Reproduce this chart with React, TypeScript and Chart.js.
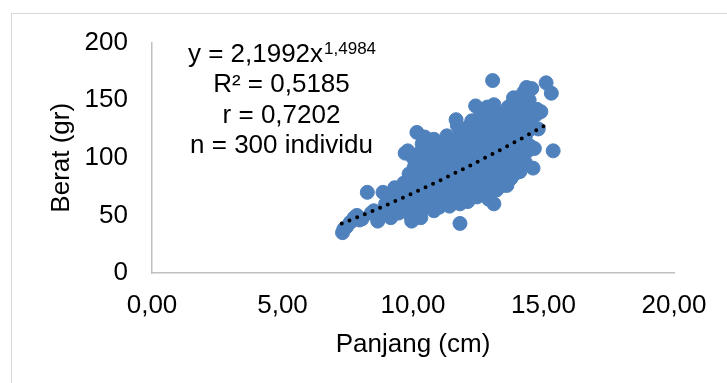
import React, { useEffect, useRef } from "react";
import { Chart, registerables } from "chart.js";

Chart.register(...registerables);

// Panjang (cm) of each sampled individual
const panjangCm = [
  7.30, 7.35, 7.45, 7.60, 7.75, 7.85, 7.95, 8.05, 8.25, 8.50, 8.65, 8.75, 8.85, 8.95, 9.05, 9.15, 9.20, 9.30, 9.40, 9.45, 9.55, 9.60, 9.65, 9.70, 9.75, 9.80, 9.85, 9.90, 9.95, 9.90, 9.80,
  10.00, 10.00, 10.05, 10.05, 10.10, 10.10, 10.15, 10.15, 10.20, 10.20, 10.25, 10.25, 10.30, 10.30, 10.35, 10.35, 10.40, 10.40, 10.45, 10.45, 10.50, 10.50, 10.50, 10.00, 10.30,
  10.55, 10.55, 10.60, 10.60, 10.65, 10.65, 10.70, 10.70, 10.75, 10.75, 10.80, 10.80, 10.85, 10.85, 10.90, 10.90, 10.95, 10.95, 10.60, 10.80, 10.70,
  11.00, 11.00, 11.00, 11.05, 11.05, 11.10, 11.10, 11.15, 11.15, 11.20, 11.20, 11.25, 11.25, 11.30, 11.30, 11.35, 11.35, 11.40, 11.40, 11.45, 11.45, 11.50, 11.50, 11.50, 11.20, 11.40,
  11.55, 11.55, 11.60, 11.60, 11.65, 11.65, 11.70, 11.70, 11.75, 11.75, 11.80, 11.80, 11.85, 11.85, 11.90, 11.90, 11.95, 11.95, 12.00, 12.00, 11.60, 11.80, 11.70,
  12.05, 12.05, 12.10, 12.10, 12.15, 12.15, 12.20, 12.20, 12.25, 12.25, 12.30, 12.30, 12.35, 12.35, 12.40, 12.40, 12.45, 12.45, 12.50, 12.50, 12.50, 12.10, 12.30, 12.45, 12.20,
  12.55, 12.55, 12.60, 12.60, 12.65, 12.65, 12.70, 12.70, 12.75, 12.75, 12.80, 12.80, 12.85, 12.85, 12.90, 12.90, 12.95, 12.95, 13.00, 13.00, 12.60, 12.80, 12.70,
  13.05, 13.05, 13.10, 13.10, 13.10, 13.15, 13.15, 13.20, 13.20, 13.25, 13.25, 13.30, 13.30, 13.35, 13.35, 13.40, 13.40, 13.45, 13.45, 13.50, 13.50, 13.20, 13.40,
  13.55, 13.55, 13.60, 13.60, 13.65, 13.65, 13.70, 13.70, 13.75, 13.75, 13.80, 13.80, 13.85, 13.85, 13.90, 13.90, 13.95, 13.95, 14.00, 14.00, 13.60, 13.80,
  14.05, 14.05, 14.10, 14.10, 14.15, 14.15, 14.20, 14.20, 14.25, 14.30, 14.30, 14.35, 14.35, 14.40, 14.45, 14.45, 14.50, 14.50,
  14.60, 14.65, 14.70, 14.75, 14.80, 14.55, 15.10, 15.30, 15.37, 14.90,
  10.10, 10.40, 10.60, 10.90, 11.10, 11.30, 11.50, 11.70, 11.90, 12.10, 12.30, 12.50, 12.70, 12.90, 13.10, 13.30, 13.50, 13.70, 13.90, 14.10,
  10.20, 10.70, 11.20, 11.60, 12.00, 12.40, 12.80, 13.20, 13.60, 14.00,
  10.30, 10.80, 11.30, 11.80, 12.20, 12.60, 13.00, 13.40, 13.80, 14.20,
  10.50, 11.00, 11.40, 11.90, 12.40, 12.90, 13.30, 13.70, 9.90, 10.00,
  8.40, 9.25, 14.25,
];

// Berat (gr) of each sampled individual (same order)
const beratGr = [
  35, 38, 40, 44, 48, 50, 46, 47, 70, 54, 45, 50, 70, 60, 66, 48, 56, 74, 64, 52, 70, 58, 78, 104, 66, 106, 86, 50, 45, 74, 60,
  56, 82, 92, 68, 98, 60, 122, 76, 88, 52, 104, 70, 62, 95, 80, 112, 56, 86, 118, 72, 100, 64, 90, 100, 48,
  78, 108, 58, 94, 84, 70, 112, 62, 98, 76, 88, 54, 104, 68, 82, 95, 60, 110, 102, 116, 90,
  57, 75, 100, 88, 66, 108, 82, 94, 60, 72, 114, 86, 102, 119, 64, 92, 78, 106, 58, 84, 98, 70, 112, 90, 96, 68,
  62, 80, 104, 94, 133, 72, 116, 86, 100, 66, 43, 124, 90, 78, 108, 70, 96, 84, 64, 118, 112, 60, 128,
  100, 76, 126, 88, 68, 108, 94, 114, 80, 132, 72, 104, 120, 90, 145, 84, 133, 66, 98, 112, 76, 62, 96, 124, 70,
  86, 127, 104, 68, 118, 92, 136, 80, 108, 72, 98, 126, 144, 88, 114, 64, 100, 78, 132, 92, 116, 112, 96,
  167, 110, 60, 84, 146, 122, 96, 72, 104, 138, 88, 116, 80, 128, 100, 92, 137, 108, 76, 120, 96, 130, 112,
  86, 132, 76, 110, 144, 100, 126, 90, 118, 82, 138, 104, 152, 96, 114, 86, 130, 108, 152, 98, 122, 120,
  120, 92, 88, 136, 101, 145, 112, 128, 157, 96, 118, 161, 138, 106, 124, 150, 110, 132,
  91, 108, 137, 142, 125, 160, 165, 156, 106, 140,
  80, 96, 86, 74, 92, 84, 80, 92, 100, 96, 86, 104, 100, 106, 114, 108, 112, 116, 122, 116,
  66, 82, 88, 88, 90, 100, 104, 96, 104, 124,
  74, 96, 106, 96, 106, 80, 104, 124, 94, 104,
  82, 90, 98, 80, 92, 120, 92, 102, 64, 72,
  52, 62, 140,
];

// Power trendline y = a * x^b as shown on the chart
const trendA = 2.1992;
const trendB = 1.4984;
const trendX = [7.27, 8, 9, 10, 11, 12, 13, 14, 15.25];

const xTickValues = [0, 5, 10, 15, 20];
const yTickValues = [0, 50, 100, 150, 200];

const eqMain = "y = 2,1992x";
const eqExp = "1,4984";
const statLines = ["R² = 0,5185", "r = 0,7202", "n = 300 individu"];

const xTitle = "Panjang (cm)";
const yTitle = "Berat (gr)";

const FONT = "'Liberation Sans', Arial, sans-serif";

const eqPlugin = {
  id: "eqText",
  afterDraw(chart: any) {
    const ctx = chart.ctx as CanvasRenderingContext2D;
    const cx = 281.5;
    ctx.save();
    ctx.fillStyle = "#000";
    ctx.textBaseline = "alphabetic";
    const big = `26px ${FONT}`;
    const small = `17px ${FONT}`;
    ctx.font = big;
    const w1 = ctx.measureText(eqMain).width;
    ctx.font = small;
    const w2 = ctx.measureText(eqExp).width;
    const x0 = cx - (w1 + w2) / 2;
    ctx.textAlign = "left";
    ctx.font = big;
    ctx.fillText(eqMain, x0, 61.5);
    ctx.font = small;
    ctx.fillText(eqExp, x0 + w1 + 1, 54);
    ctx.font = big;
    ctx.textAlign = "center";
    statLines.forEach((t, i) => ctx.fillText(t, cx, 92 + i * 30.7));
    ctx.restore();
  },
};

export default function App() {
  const ref = useRef<HTMLCanvasElement | null>(null);

  useEffect(() => {
    if (!ref.current) return;
    const points = panjangCm.map((x, i) => ({ x, y: beratGr[i] }));
    const trend = trendX.map((x) => ({ x, y: trendA * Math.pow(x, trendB) }));
    const tickFont = { family: FONT, size: 26 };
    const chart = new Chart(ref.current, {
      type: "scatter",
      data: {
        datasets: [
          {
            type: "line",
            data: trend,
            borderColor: "#000000",
            borderWidth: 4,
            borderDash: [0, 8.3],
            borderCapStyle: "round",
            pointRadius: 0,
            fill: false,
            tension: 0,
            order: 0,
          } as any,
          {
            data: points,
            backgroundColor: "#4F81BD",
            borderColor: "#4F81BD",
            borderWidth: 1,
            pointRadius: 7,
            order: 1,
          },
        ],
      },
      options: {
        responsive: false,
        animation: false,
        devicePixelRatio: 1,
        layout: { padding: { top: 42.5, right: 53, bottom: 0, left: 0 } },
        plugins: { legend: { display: false }, tooltip: { enabled: false } },
        scales: {
          x: {
            type: "linear",
            min: 0,
            max: 20,
            afterBuildTicks: (s: any) => {
              s.ticks = xTickValues.map((v) => ({ value: v }));
            },
            ticks: {
              color: "#000",
              font: tickFont,
              padding: 17,
              callback: (v: any) => Number(v).toFixed(2).replace(".", ","),
            },
            grid: { display: true, drawOnChartArea: false, drawTicks: false },
            border: { display: true, color: "#bfbfbf", width: 1.5 },
            title: {
              display: true,
              text: xTitle,
              color: "#000",
              font: tickFont,
              padding: { top: 0, bottom: 23 },
            },
            afterFit: (s: any) => {
              s.height = 110;
            },
          },
          y: {
            type: "linear",
            min: 0,
            max: 200,
            afterBuildTicks: (s: any) => {
              s.ticks = yTickValues.map((v) => ({ value: v }));
            },
            ticks: {
              color: "#000",
              font: tickFont,
              padding: 24,
              callback: (v: any) => String(v),
            },
            grid: { display: true, drawOnChartArea: false, drawTicks: false },
            border: { display: true, color: "#bfbfbf", width: 1.5 },
            title: {
              display: true,
              text: yTitle,
              color: "#000",
              font: tickFont,
              padding: { top: 46, bottom: 0 },
            },
            afterFit: (s: any) => {
              s.width = 152;
            },
          },
        },
      },
      plugins: [eqPlugin],
    });
    return () => chart.destroy();
  }, []);

  return (
    <div
      style={{
        position: "fixed",
        left: 0,
        top: 0,
        width: 727,
        height: 383,
        overflow: "hidden",
        background: "#fff",
      }}
    >
      <div
        style={{
          position: "absolute",
          left: 11,
          top: 13,
          width: 760,
          height: 420,
          border: "1px solid #d9d9d9",
        }}
      />
      <canvas
        ref={ref}
        width={727}
        height={383}
        style={{ position: "absolute", left: 0, top: 0, width: 727, height: 383 }}
      />
    </div>
  );
}
